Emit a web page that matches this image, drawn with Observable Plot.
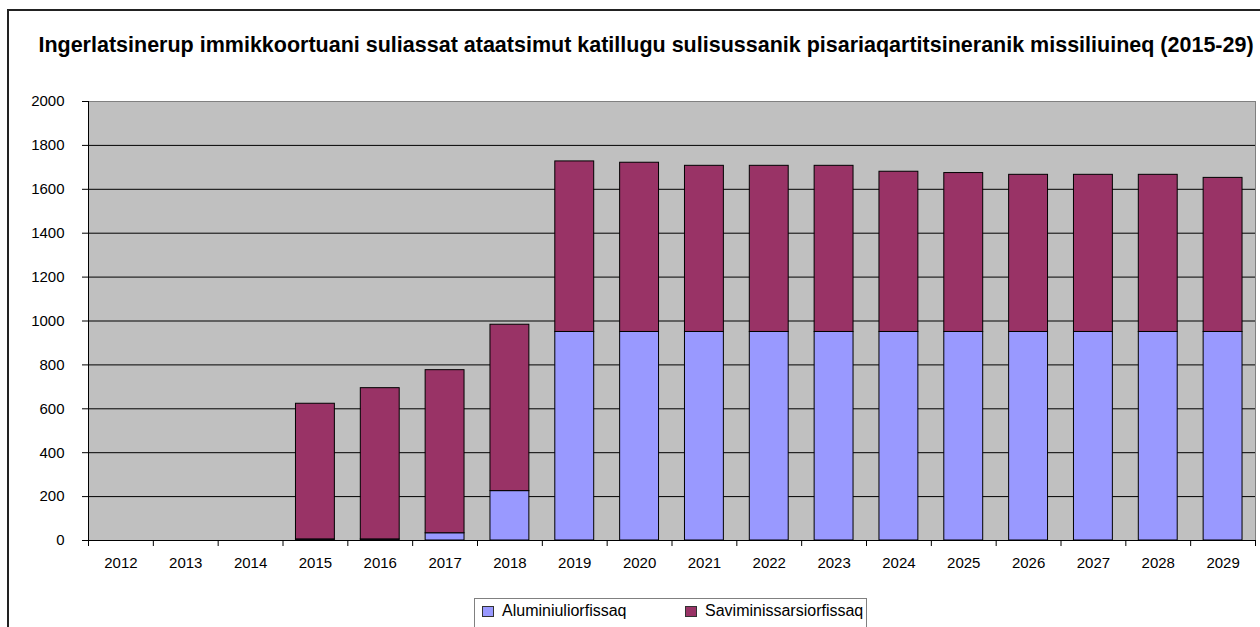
<!DOCTYPE html>
<html><head><meta charset="utf-8">
<script src="https://cdn.jsdelivr.net/npm/d3@7"></script>
<script src="https://cdn.jsdelivr.net/npm/@observablehq/plot@0.6"></script>
<style>
body{margin:0;background:#fff;font-family:Arial,"Liberation Sans",sans-serif;}
#wrap{position:relative;width:1260px;height:627px;overflow:hidden;background:#fff;}
#border{position:absolute;left:7px;top:9px;width:1300px;height:700px;border:2px solid #222;box-sizing:border-box;}
#chart{position:absolute;left:0;top:0;}
#title{position:absolute;left:0;top:33px;width:1292px;text-align:center;font-weight:bold;font-size:21.5px;line-height:24px;color:#000;white-space:nowrap;}
#legend{position:absolute;left:474px;top:598px;width:393px;height:40px;border:1px solid #808080;box-sizing:border-box;font-size:16px;color:#000;}
.item{position:absolute;top:2px;line-height:20px;white-space:nowrap;}
.sw{display:inline-block;width:10px;height:9px;border:1px solid #333;margin-right:8px;vertical-align:-1px;}
</style>
</head><body>
<div id="wrap">
  <div id="border"></div>
  <div id="chart"></div>
  <div id="title"></div>
  <div id="legend"></div>
</div>
<script>
const titleText = "Ingerlatsinerup immikkoortuani suliassat ataatsimut katillugu sulisussanik pisariaqartitsineranik missiliuineq (2015-29)";
const years = ["2012","2013","2014","2015","2016","2017","2018","2019","2020","2021","2022","2023","2024","2025","2026","2027","2028","2029"];
const seriesNames = ["Aluminiuliorfissaq","Saviminissarsiorfissaq"];
const seriesColors = ["#9999FF","#993366"];
const aluminium = [0,0,0,5,5,33,225,950,950,950,950,950,950,950,950,950,950,950];
const savimineq = [0,0,0,618,689,743,758,777,771,757,757,757,730,724,716,716,716,702];
const yTicks = [0,200,400,600,800,1000,1200,1400,1600,1800,2000];

const data = [];
years.forEach((y,i)=>{
  if (aluminium[i] > 0) data.push({year:y, series:seriesNames[0], value:aluminium[i]});
  if (savimineq[i] > 0) data.push({year:y, series:seriesNames[1], value:savimineq[i]});
});

const W = 1260, H = 627, mL = 88, mR = 5, mT = 101, mB = 87;
const step = (W - mL - mR) / years.length;

const chart = Plot.plot({
  width: W, height: H,
  marginLeft: mL, marginRight: mR, marginTop: mT, marginBottom: mB,
  style: {background: "none", fontFamily: "Arial, 'Liberation Sans', sans-serif", fontSize: "15px", color: "#000"},
  x: {domain: years, paddingInner: 0.4, paddingOuter: 0.2, round: false, label: null, axis: null},
  y: {domain: [0, 2000], label: null, axis: null},
  color: {domain: seriesNames, range: seriesColors},
  marks: [
    Plot.frame({fill: "#c0c0c0", stroke: "#808080", strokeWidth: 1}),
    Plot.ruleY(yTicks.filter(v => v > 0 && v < 2000), {stroke: "#000", strokeWidth: 1}),
    Plot.barY(data, {x: "year", y: "value", fill: "series", stroke: "#000", strokeWidth: 1, order: seriesNames}),
    Plot.frame({anchor: "left", stroke: "#000", strokeWidth: 1}),
    Plot.ruleY([0], {stroke: "#000", strokeWidth: 1}),
    Plot.axisY(yTicks, {tickSize: 6, tickPadding: 18, fontSize: 15, tickFormat: d => String(d), stroke: "#000"}),
    Plot.axisX(years, {tickSize: 0, tickPadding: 17, fontSize: 15}),
    Plot.axisX(years, {tickSize: 6, tickFormat: () => "", dx: -step / 2, stroke: "#000"}),
    Plot.axisX([years[years.length - 1]], {tickSize: 6, tickFormat: () => "", dx: step / 2, stroke: "#000"})
  ]
});
document.getElementById("chart").appendChild(chart);
document.getElementById("title").textContent = titleText;

const legend = document.getElementById("legend");
const lefts = [7, 210];
seriesNames.forEach((name, i) => {
  const it = document.createElement("div");
  it.className = "item";
  it.style.left = lefts[i] + "px";
  const sw = document.createElement("span");
  sw.className = "sw";
  sw.style.background = seriesColors[i];
  it.appendChild(sw);
  it.appendChild(document.createTextNode(name));
  legend.appendChild(it);
});
</script>
</body></html>
